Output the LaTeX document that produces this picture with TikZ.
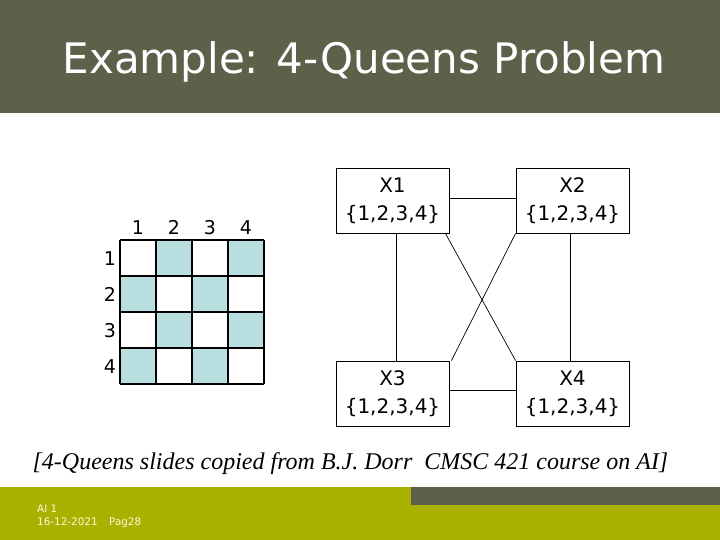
\documentclass[tikz,border=0pt]{standalone}
\usepackage{fontspec}
\setmainfont{DejaVu Sans}
\newfontfamily\capfont{Liberation Serif}
\definecolor{hdr}{RGB}{94,96,74}
\definecolor{olive}{RGB}{170,177,0}
\definecolor{cell}{RGB}{185,222,224}
\definecolor{foot}{RGB}{250,250,215}
\begin{document}
\begin{tikzpicture}[x=1pt,y=-1pt,
  varbox/.style={draw=black,line width=0.9pt,fill=white,minimum width=113pt,minimum height=65pt,inner sep=0pt,align=center,font=\fontsize{20}{28}\selectfont},
  lbl/.style={font=\fontsize{19}{22}\selectfont,inner sep=0pt,anchor=base},
  foottxt/.style={anchor=base west,text=foot,font=\fontsize{10.4}{12}\selectfont,inner sep=0pt},
  link/.style={draw=black,line width=0.7pt}]
\useasboundingbox (0,0) rectangle (720,540);
\fill[white] (0,0) rectangle (720,540);
% header
\fill[hdr] (0,0) rectangle (720,113);
\node[text=white,font=\fontsize{42}{48}\selectfont,inner sep=0pt] (title) at (364,62) {Example: 4-Queens Problem};
% footer
\fill[olive] (0,487) rectangle (720,540);
\fill[hdr] (411,487) rectangle (720,505);
\node[foottxt] (f1) at (37,512) {AI 1};
\node[foottxt] (f2) at (37,525) {16-12-2021};
\node[foottxt] (f3) at (109,525) {Pag28};
% chess board
\foreach \c/\r in {2/1,4/1,1/2,3/2,2/3,4/3,1/4,3/4}{
  \fill[cell] ({120+36*(\c-1)},{240+36*(\r-1)}) rectangle ++(36,36);
}
\foreach \k in {0,1,2,3,4}{
  \draw[black,line width=1.3pt] ({120+36*\k},240) -- ({120+36*\k},384);
  \draw[black,line width=1.3pt] (120,{240+36*\k}) -- (264,{240+36*\k});
}
\foreach \i in {1,2,3,4}{
  \node[lbl] (col\i) at ({138+36*(\i-1)},234) {\i};
  \node[lbl] (row\i) at (110,{265+36*(\i-1)}) {\i};
}
% constraint graph
\node[varbox] (x1) at (392.5,200.5) {X1\\\{1,2,3,4\}};
\node[varbox] (x2) at (572.5,200.5) {X2\\\{1,2,3,4\}};
\node[varbox] (x3) at (392.5,393.5) {X3\\\{1,2,3,4\}};
\node[varbox] (x4) at (572.5,393.5) {X4\\\{1,2,3,4\}};
\draw[link] ([yshift=2pt]x1.east) -- ([yshift=2pt]x2.west);
\draw[link] ([yshift=3pt]x3.east) -- ([yshift=3pt]x4.west);
\draw[link] ([xshift=4pt]x1.south) -- ([xshift=4pt]x3.north);
\draw[link] ([xshift=-2pt]x2.south) -- ([xshift=-2pt]x4.north);
\draw[link] ([xshift=-4pt]x1.south east) -- (x4.north west);
\draw[link] (x2.south west) -- ([xshift=2pt]x3.north east);
% caption
\node[font=\capfont\itshape\fontsize{24}{27}\selectfont,inner sep=0pt] (cap) at (350.5,464) {[4-Queens slides copied from B.J. Dorr\ \ CMSC 421 course on AI]};
\end{tikzpicture}
\end{document}
